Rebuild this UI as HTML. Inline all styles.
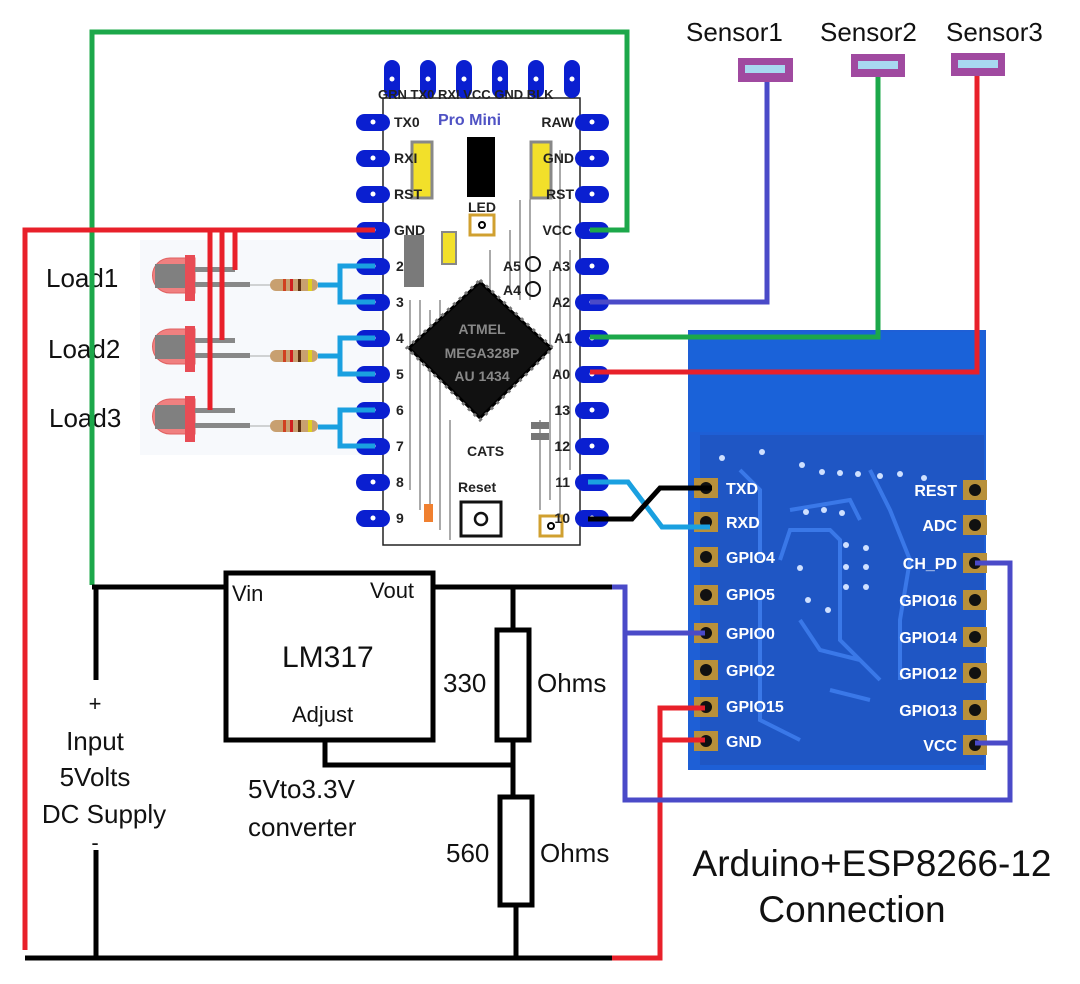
<!DOCTYPE html>
<html><head><meta charset="utf-8"><style>
html,body{margin:0;padding:0;background:#fff;}
svg{display:block;}
text{font-family:"Liberation Sans",sans-serif;}
</style></head><body>
<svg width="1080" height="984" viewBox="0 0 1080 984" xmlns="http://www.w3.org/2000/svg">
<rect width="1080" height="984" fill="#fff"/>
<rect x="140" y="240" width="240" height="215" fill="#f7f9fc"/>

<!-- ESP board -->
<rect x="688" y="330" width="298" height="440" fill="#1e5fd6"/>
<rect x="690" y="332" width="294" height="100" fill="#1a62d9"/>
<rect x="700" y="435" width="284" height="330" fill="#1f56c4"/>
<g fill="none" stroke="#3a78e8" stroke-width="4">
<path d="M740 470 L760 490 L760 560 M790 510 L850 500 L860 520 M780 560 L790 530 L830 530 L840 540 L840 640 L880 680 M800 620 L820 650 L860 660 M870 470 L890 510 L910 560 L900 620 L900 680 M760 600 L760 720 L800 740 M830 690 L870 700"/>
</g>
<g fill="#cfe0ff">
<circle cx="722" cy="458" r="3"/><circle cx="762" cy="452" r="3"/><circle cx="802" cy="465" r="3"/><circle cx="822" cy="472" r="3"/><circle cx="840" cy="473" r="3"/><circle cx="858" cy="474" r="3"/><circle cx="880" cy="476" r="3"/><circle cx="900" cy="474" r="3"/><circle cx="924" cy="478" r="3"/><circle cx="846" cy="545" r="3"/><circle cx="866" cy="548" r="3"/><circle cx="846" cy="567" r="3"/><circle cx="866" cy="567" r="3"/><circle cx="846" cy="587" r="3"/><circle cx="866" cy="587" r="3"/><circle cx="806" cy="512" r="3"/><circle cx="824" cy="510" r="3"/><circle cx="842" cy="513" r="3"/><circle cx="800" cy="568" r="3"/><circle cx="808" cy="600" r="3"/><circle cx="828" cy="610" r="3"/>
</g>
<g fill="#b8903a">
<rect x="694" y="478" width="24" height="20"/><rect x="694" y="512" width="24" height="20"/><rect x="694" y="547" width="24" height="20"/><rect x="694" y="585" width="24" height="20"/><rect x="694" y="623" width="24" height="20"/><rect x="694" y="660" width="24" height="20"/><rect x="694" y="697" width="24" height="20"/><rect x="694" y="731" width="24" height="20"/>
<rect x="963" y="480" width="24" height="20"/><rect x="963" y="515" width="24" height="20"/><rect x="963" y="553" width="24" height="20"/><rect x="963" y="590" width="24" height="20"/><rect x="963" y="627" width="24" height="20"/><rect x="963" y="663" width="24" height="20"/><rect x="963" y="700" width="24" height="20"/><rect x="963" y="735" width="24" height="20"/>
</g>
<g fill="#111">
<circle cx="706" cy="488" r="6"/><circle cx="706" cy="522" r="6"/><circle cx="706" cy="557" r="6"/><circle cx="706" cy="595" r="6"/><circle cx="706" cy="633" r="6"/><circle cx="706" cy="670" r="6"/><circle cx="706" cy="707" r="6"/><circle cx="706" cy="741" r="6"/>
<circle cx="975" cy="490" r="6"/><circle cx="975" cy="525" r="6"/><circle cx="975" cy="563" r="6"/><circle cx="975" cy="600" r="6"/><circle cx="975" cy="637" r="6"/><circle cx="975" cy="673" r="6"/><circle cx="975" cy="710" r="6"/><circle cx="975" cy="745" r="6"/>
</g>
<g fill="#fff" font-weight="bold" font-size="16">
<text x="726" y="494">TXD</text><text x="726" y="528">RXD</text><text x="726" y="563">GPIO4</text><text x="726" y="600">GPIO5</text><text x="726" y="639">GPIO0</text><text x="726" y="676">GPIO2</text><text x="726" y="712">GPIO15</text><text x="726" y="747">GND</text>
<g text-anchor="end"><text x="957" y="496">REST</text><text x="957" y="531">ADC</text><text x="957" y="569">CH_PD</text><text x="957" y="606">GPIO16</text><text x="957" y="643">GPIO14</text><text x="957" y="679">GPIO12</text><text x="957" y="716">GPIO13</text><text x="957" y="751">VCC</text></g>
</g>

<!-- Arduino board -->
<rect x="383" y="98" width="197" height="447" fill="#fff" stroke="#222" stroke-width="1.5"/>
<g stroke="#555" stroke-width="1">
<path d="M410 300 V490 M420 300 V510 M430 310 V520 M440 300 V530 M450 420 V540 M540 420 V510 M550 270 V500 M560 150 V520 M570 250 V470 M530 170 V300 M520 200 V300 M510 230 V290 M490 250 V290"/>
</g>
<!-- components (under labels) -->
<rect x="412" y="142" width="20" height="56" fill="#f2e02a" stroke="#888" stroke-width="3"/>
<rect x="531" y="142" width="20" height="56" fill="#f2e02a" stroke="#888" stroke-width="3"/>
<rect x="467" y="137" width="28" height="60" fill="#000"/>
<rect x="442" y="232" width="14" height="32" fill="#f2e02a" stroke="#888" stroke-width="2"/>
<rect x="404" y="235" width="20" height="52" fill="#7a7a7a"/>
<rect x="470" y="215" width="24" height="20" fill="#fff" stroke="#d0a030" stroke-width="3"/><circle cx="482" cy="225" r="3" fill="none" stroke="#000" stroke-width="2"/>
<rect x="540" y="516" width="22" height="20" fill="#fff" stroke="#d0a030" stroke-width="3"/><circle cx="551" cy="526" r="3" fill="none" stroke="#000" stroke-width="2"/>
<rect x="424" y="504" width="9" height="18" fill="#f08030"/>
<rect x="461" y="502" width="40" height="34" fill="#fff" stroke="#111" stroke-width="3"/><circle cx="481" cy="519" r="6" fill="none" stroke="#111" stroke-width="2.5"/>
<rect x="531" y="422" width="18" height="7" fill="#777"/><rect x="531" y="433" width="18" height="7" fill="#777"/>

<g fill="#0a1fd0">
<rect x="384" y="60" width="16" height="38" rx="8"/><rect x="420" y="60" width="16" height="38" rx="8"/><rect x="456" y="60" width="16" height="38" rx="8"/><rect x="492" y="60" width="16" height="38" rx="8"/><rect x="528" y="60" width="16" height="38" rx="8"/><rect x="564" y="60" width="16" height="38" rx="8"/>
</g>
<g id="lp">
<g fill="#0a1fd0">
<rect x="356" y="114" width="34" height="17" rx="8.5"/><rect x="356" y="150" width="34" height="17" rx="8.5"/><rect x="356" y="186" width="34" height="17" rx="8.5"/><rect x="356" y="222" width="34" height="17" rx="8.5"/><rect x="356" y="258" width="34" height="17" rx="8.5"/><rect x="356" y="294" width="34" height="17" rx="8.5"/><rect x="356" y="330" width="34" height="17" rx="8.5"/><rect x="356" y="366" width="34" height="17" rx="8.5"/><rect x="356" y="402" width="34" height="17" rx="8.5"/><rect x="356" y="438" width="34" height="17" rx="8.5"/><rect x="356" y="474" width="34" height="17" rx="8.5"/><rect x="356" y="510" width="34" height="17" rx="8.5"/>
</g>
<g fill="#fff">
<circle cx="373" cy="122" r="2.5"/><circle cx="373" cy="158" r="2.5"/><circle cx="373" cy="194" r="2.5"/><circle cx="373" cy="230" r="2.5"/><circle cx="373" cy="266" r="2.5"/><circle cx="373" cy="302" r="2.5"/><circle cx="373" cy="338" r="2.5"/><circle cx="373" cy="374" r="2.5"/><circle cx="373" cy="410" r="2.5"/><circle cx="373" cy="446" r="2.5"/><circle cx="373" cy="482" r="2.5"/><circle cx="373" cy="518" r="2.5"/>
</g>
</g>
<use href="#lp" x="219"/>
<g fill="#fff">
<circle cx="392" cy="79" r="2.5"/><circle cx="428" cy="79" r="2.5"/><circle cx="464" cy="79" r="2.5"/><circle cx="500" cy="79" r="2.5"/><circle cx="536" cy="79" r="2.5"/><circle cx="572" cy="79" r="2.5"/>
</g>
<g fill="#222" font-weight="bold" font-size="14">
<text x="378" y="99" font-size="13">GRN  TX0 RXI VCC GND BLK</text>
<text x="394" y="127">TX0</text><text x="394" y="163">RXI</text><text x="394" y="199">RST</text><text x="394" y="235">GND</text><text x="396" y="271">2</text><text x="396" y="307">3</text><text x="396" y="343">4</text><text x="396" y="379">5</text><text x="396" y="415">6</text><text x="396" y="451">7</text><text x="396" y="487">8</text><text x="396" y="523">9</text>
<g text-anchor="end"><text x="574" y="127">RAW</text><text x="574" y="163">GND</text><text x="574" y="199">RST</text><text x="572" y="235">VCC</text><text x="570" y="271">A3</text><text x="570" y="307">A2</text><text x="572" y="343">A1</text><text x="570" y="379">A0</text><text x="570" y="415">13</text><text x="570" y="451">12</text><text x="570" y="487">11</text><text x="570" y="523">10</text></g>
<text x="503" y="271">A5</text><text x="503" y="295">A4</text>
<text x="468" y="212">LED</text><text x="467" y="456">CATS</text><text x="458" y="492">Reset</text>
</g>
<text x="438" y="125" fill="#4f52c4" font-weight="bold" font-size="16">Pro Mini</text>
<circle cx="533" cy="264" r="7" fill="none" stroke="#111" stroke-width="2"/><circle cx="533" cy="289" r="7" fill="none" stroke="#111" stroke-width="2"/>
<!-- chip -->
<polygon points="480,280 553,348 480,420 407,348" fill="#000" stroke="#777" stroke-width="3" stroke-dasharray="3 5"/>
<polygon points="480,284 549,348 480,416 411,348" fill="#111"/>
<g fill="#888" font-weight="bold" font-size="14" text-anchor="middle">
<text x="482" y="334">ATMEL</text><text x="482" y="358">MEGA328P</text><text x="482" y="381">AU 1434</text>
</g>

<!-- LEDs/loads -->
<g>
<g id="led">
<path d="M170 258 h25 v35 h-25 a17 17 0 0 1 0 -35z" fill="#f08080" stroke="#e06060"/>
<rect x="155" y="264" width="35" height="24" fill="#808080"/>
<rect x="185" y="255" width="10" height="46" fill="#e84c55"/>
<rect x="195" y="267" width="40" height="5" fill="#888"/>
<rect x="195" y="282" width="55" height="5" fill="#888"/>
<line x1="250" y1="285" x2="270" y2="285" stroke="#aaa"/>
<rect x="270" y="279" width="48" height="12" rx="6" fill="#c8a070"/>
<rect x="283" y="279" width="3" height="12" fill="#d04020"/><rect x="290" y="279" width="3" height="12" fill="#d02020"/><rect x="298" y="279" width="3" height="12" fill="#603010"/><rect x="308" y="279" width="4" height="12" fill="#e0d020"/>
</g>
<use href="#led" y="71"/>
<use href="#led" y="141"/>
</g>
<g font-size="26" fill="#111">
<text x="46" y="287">Load1</text><text x="48" y="358">Load2</text><text x="49" y="427">Load3</text>
</g>
<!-- light blue pin jumpers -->
<g fill="none" stroke="#1aa0e0" stroke-width="5">
<path d="M375 266 H340 V302 H375 M318 285 H340"/>
<path d="M375 338 H340 V374 H375 M318 356 H340"/>
<path d="M375 410 H340 V446 H375 M318 427 H340"/>
<path d="M588 482 H628 L662 527 H710"/>
</g>
<path d="M588 519 H632 L660 488 H712" fill="none" stroke="#000" stroke-width="5"/>

<!-- Green wire -->
<path d="M92 585 V32 H627 V230 H590" fill="none" stroke="#1ca84a" stroke-width="5"/>
<path d="M878 75 V337 H590" fill="none" stroke="#1ca84a" stroke-width="5"/>
<!-- Red wires -->
<path d="M25 950 V230 H375" fill="none" stroke="#e8202a" stroke-width="5"/>
<path d="M210 230 V410 M222 230 V340 M235 230 V270" fill="none" stroke="#e8202a" stroke-width="5"/>
<path d="M977 75 V372 H590" fill="none" stroke="#e8202a" stroke-width="5"/>
<path d="M610 958 H660 V708 H705 M662 740 H705" fill="none" stroke="#e8202a" stroke-width="5"/>
<!-- blue wires -->
<path d="M767 78 V302 H590" fill="none" stroke="#4a4ac8" stroke-width="5"/>
<path d="M612 587 H625 V800 H1010 V563 H975 M1010 743 H975 M625 633 H705" fill="none" stroke="#4a4ac8" stroke-width="5"/>
<!-- sensors -->
<rect x="738" y="58" width="55" height="24" fill="#a04aa0"/><rect x="745" y="65" width="40" height="8" fill="#a8d8f0"/>
<rect x="851" y="54" width="54" height="23" fill="#a04aa0"/><rect x="858" y="61" width="40" height="8" fill="#a8d8f0"/>
<rect x="951" y="53" width="54" height="23" fill="#a04aa0"/><rect x="958" y="60" width="40" height="8" fill="#a8d8f0"/>
<g font-size="26" fill="#111">
<text x="686" y="41">Sensor1</text><text x="820" y="41">Sensor2</text><text x="946" y="41">Sensor3</text>
</g>

<!-- power circuit -->
<g fill="none" stroke="#000" stroke-width="5">
<path d="M92 587 H226 M433 587 H612"/>
<path d="M96 587 V680 M96 850 V958 M25 958 H612"/>
<rect x="226" y="573" width="207" height="167"/>
<path d="M325 740 V765 H515"/>
<path d="M513 587 V630 M513 740 V795 M516 905 V958"/>
<rect x="497" y="630" width="32" height="110"/>
<rect x="500" y="797" width="32" height="108"/>
</g>
<g font-size="22" fill="#111">
<text x="232" y="601">Vin</text><text x="370" y="598">Vout</text>
<text x="282" y="667" font-size="30">LM317</text>
<text x="292" y="722">Adjust</text>
<text x="443" y="692" font-size="26">330</text><text x="537" y="692" font-size="26">Ohms</text>
<text x="446" y="862" font-size="26">560</text><text x="540" y="862" font-size="26">Ohms</text>
<text x="248" y="798" font-size="26">5Vto3.3V</text><text x="248" y="836" font-size="26">converter</text>
<g text-anchor="middle" font-size="26"><text x="95" y="711" font-size="22">+</text><text x="95" y="750">Input</text><text x="95" y="786">5Volts</text><text x="104" y="823">DC Supply</text><text x="95" y="850" font-size="22">-</text></g>
</g>
<g font-size="37" fill="#111" text-anchor="middle">
<text x="872" y="876">Arduino+ESP8266-12</text><text x="852" y="922">Connection</text>
</g>
</svg>
</body></html>
